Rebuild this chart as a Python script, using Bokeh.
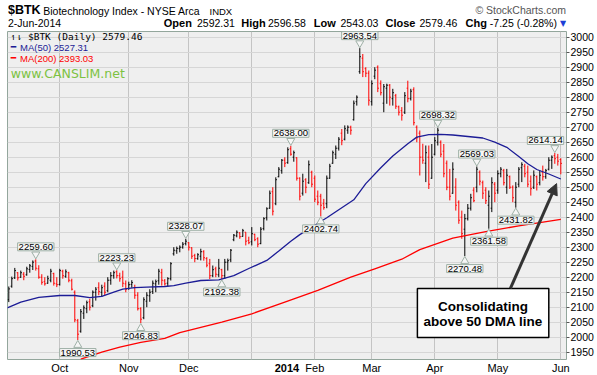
import numpy as np
from bokeh.plotting import figure
from bokeh.layouts import column
from bokeh.models import (ColumnDataSource, Range1d, FixedTicker, SingleIntervalTicker,
                          Label, Arrow, NormalHead, BoxAnnotation, LinearAxis)
from bokeh.embed import file_html
from bokeh.resources import INLINE

# ---------------- data ----------------
opens = [2125, 2170, 2198, 2215, 2200, 2210, 2208, 2226, 2236, 2254,
         2228, 2200, 2185, 2180, 2190, 2212, 2178, 2176, 2220, 2203,
         2215, 2188, 2150, 2055, 2020, 2080, 2095, 2118, 2105, 2150,
         2165, 2150, 2170, 2155, 2190, 2205, 2218, 2205, 2200, 2178,
         2162, 2176, 2165, 2140, 2095, 2065, 2120, 2138, 2152, 2178,
         2188, 2215, 2188, 2180, 2195, 2278, 2288, 2295, 2300, 2312,
         2315, 2298, 2272, 2262, 2270, 2285, 2262, 2245, 2205, 2228,
         2208, 2225, 2205, 2250, 2258, 2325, 2338, 2348, 2336, 2350,
         2322, 2318, 2343, 2328, 2312, 2362, 2398, 2430, 2485, 2445,
         2535, 2555, 2590, 2582, 2628, 2600, 2598, 2530, 2480, 2525,
         2515, 2550, 2530, 2470, 2470, 2445, 2445, 2530, 2580, 2610,
         2630, 2680, 2660, 2690, 2700, 2725, 2785, 2885, 2930, 2895,
         2880, 2785, 2870, 2900, 2845, 2780, 2830, 2840, 2795, 2805,
         2768, 2755, 2750, 2830, 2795, 2825, 2700, 2680, 2600, 2580,
         2600, 2530, 2610, 2650, 2650, 2620, 2580, 2500, 2480, 2500,
         2450, 2400, 2360, 2395, 2430, 2490, 2500, 2550, 2515, 2490,
         2440, 2430, 2510, 2490, 2545, 2555, 2500, 2535, 2500, 2450,
         2510, 2565, 2570, 2550, 2520, 2500, 2535, 2515, 2550, 2535,
         2560, 2590, 2605, 2600, 2592.31]
highs = [2169, 2202, 2231, 2217, 2222, 2217, 2235, 2244, 2256, 2259.60,
         2240, 2210, 2200, 2205, 2228, 2215, 2200, 2228, 2225, 2226,
         2218, 2195, 2156, 2061, 2094, 2106, 2122, 2128, 2156, 2167,
         2183, 2175, 2183, 2200, 2217, 2222, 2223.23, 2215, 2222, 2189,
         2185, 2190, 2175, 2150, 2100, 2133, 2150, 2160, 2189, 2192,
         2228, 2228, 2194, 2200, 2250, 2300, 2302, 2306, 2317, 2328.07,
         2317, 2300, 2278, 2280, 2295, 2290, 2267, 2261, 2239, 2235,
         2261, 2228, 2261, 2262, 2294, 2344, 2356, 2350, 2361, 2350,
         2335, 2367, 2345, 2333, 2367, 2400, 2433, 2489, 2500, 2533,
         2567, 2594, 2600, 2633, 2638.00, 2622, 2600, 2533, 2545, 2530,
         2589, 2555, 2539, 2489, 2478, 2461, 2539, 2578, 2622, 2639,
         2667, 2694, 2706, 2706, 2705, 2789, 2806, 2963.54, 2944, 2900,
         2889, 2856, 2900, 2906, 2856, 2844, 2845, 2844, 2828, 2811,
         2772, 2767, 2817, 2855, 2828, 2833, 2706, 2689, 2645, 2639,
         2639, 2644, 2667, 2698.32, 2656, 2644, 2589, 2561, 2583, 2530,
         2456, 2422, 2411, 2444, 2478, 2500, 2569.03, 2556, 2522, 2500,
         2489, 2533, 2517, 2556, 2567, 2561, 2561, 2539, 2506, 2517,
         2567, 2583, 2578, 2572, 2539, 2556, 2539, 2556, 2572, 2561,
         2600, 2606, 2614.14, 2611, 2596.58]
lows = [2117, 2165, 2194, 2189, 2198, 2190, 2205, 2215, 2224, 2222,
        2195, 2175, 2172, 2178, 2183, 2172, 2167, 2172, 2195, 2198,
        2183, 2156, 2050, 1990.53, 2015, 2061, 2080, 2089, 2100, 2122,
        2140, 2135, 2140, 2150, 2175, 2195, 2196, 2185, 2167, 2150,
        2158, 2165, 2128, 2089, 2046.83, 2060, 2100, 2118, 2144, 2150,
        2175, 2172, 2172, 2170, 2189, 2272, 2278, 2283, 2295, 2306,
        2289, 2261, 2250, 2258, 2256, 2255, 2233, 2194, 2200, 2200,
        2200, 2192.38, 2194, 2222, 2250, 2320, 2333, 2328, 2335, 2306,
        2310, 2306, 2320, 2300, 2310, 2356, 2389, 2428, 2406, 2440,
        2533, 2545, 2567, 2578, 2605, 2585, 2522, 2456, 2472, 2480,
        2511, 2500, 2450, 2440, 2402.74, 2425, 2430, 2528, 2578, 2594,
        2622, 2640, 2656, 2678, 2675, 2722, 2772, 2878, 2867, 2867,
        2772, 2772, 2860, 2817, 2806, 2750, 2778, 2772, 2772, 2761,
        2739, 2722, 2744, 2783, 2789, 2706, 2650, 2539, 2578, 2517,
        2494, 2528, 2606, 2639, 2600, 2533, 2490, 2456, 2478, 2422,
        2378, 2328, 2270.48, 2389, 2422, 2450, 2483, 2506, 2461, 2444,
        2361.58, 2417, 2450, 2478, 2533, 2506, 2478, 2494, 2450, 2431.82,
        2500, 2517, 2533, 2500, 2472, 2494, 2489, 2506, 2522, 2528,
        2556, 2561, 2578, 2572, 2543.03]
closes = [2161, 2195, 2222, 2198, 2215, 2203, 2228, 2238, 2250, 2230,
          2200, 2183, 2178, 2195, 2220, 2180, 2175, 2222, 2205, 2218,
          2190, 2160, 2058, 2010, 2085, 2098, 2115, 2100, 2150, 2160,
          2152, 2165, 2150, 2190, 2205, 2215, 2205, 2195, 2180, 2160,
          2175, 2182, 2140, 2095, 2060, 2125, 2140, 2150, 2180, 2185,
          2220, 2190, 2178, 2195, 2245, 2290, 2296, 2300, 2310, 2320,
          2300, 2270, 2262, 2275, 2285, 2265, 2240, 2205, 2225, 2210,
          2230, 2205, 2250, 2255, 2290, 2340, 2350, 2335, 2355, 2320,
          2315, 2345, 2325, 2310, 2360, 2395, 2428, 2480, 2420, 2525,
          2560, 2590, 2580, 2625, 2610, 2615, 2530, 2470, 2520, 2500,
          2575, 2510, 2460, 2450, 2440, 2432, 2530, 2570, 2615, 2630,
          2660, 2655, 2695, 2700, 2690, 2780, 2800, 2935, 2885, 2880,
          2790, 2845, 2890, 2830, 2815, 2835, 2840, 2800, 2815, 2770,
          2750, 2740, 2805, 2795, 2820, 2715, 2665, 2600, 2590, 2615,
          2510, 2600, 2655, 2690, 2610, 2545, 2500, 2470, 2560, 2440,
          2390, 2345, 2395, 2430, 2465, 2455, 2560, 2520, 2480, 2455,
          2470, 2515, 2480, 2545, 2560, 2515, 2540, 2500, 2465, 2500,
          2560, 2575, 2545, 2510, 2495, 2540, 2510, 2540, 2535, 2555,
          2590, 2600, 2595, 2586.71, 2579.46]

# month boundaries (trading-day index) and their tick labels
month_idx = [17, 40, 60, 81, 102, 121, 142, 163, 184]
month_lbl = ["Oct", "Nov", "Dec", "2014", "Feb", "Mar", "Apr", "May", "Jun"]

# moving averages (trading-day index, value)
ma50_idx = [-0.5, 4, 10, 17, 22, 27, 31, 35, 38, 42, 46, 52, 55, 59, 64, 70, 75, 80, 86, 90,
            94, 97, 102, 106, 110, 115, 119, 124, 128, 133, 136, 140, 144, 148, 153, 158, 162,
            166, 170, 173, 176, 180, 184]
ma50_val = [2098, 2117, 2133, 2139, 2139, 2132, 2136, 2150, 2160, 2165, 2167, 2169, 2172, 2180,
            2189, 2191, 2205, 2229, 2256, 2287, 2320, 2342, 2373, 2398, 2425, 2458, 2512, 2565,
            2604, 2645, 2667, 2675, 2676, 2674, 2669, 2664, 2650, 2633, 2602, 2578, 2559, 2544,
            2527.31]
ma200_idx = [24, 31, 37, 44, 52, 57, 64, 71, 81, 92, 103, 114, 122, 131, 137, 148, 159, 170, 184]
ma200_val = [1927, 1950, 1967, 1983, 1996, 2015, 2033, 2050, 2078, 2117, 2156, 2200, 2228,
             2260, 2292, 2330, 2352, 2371, 2393.03]

# annotated swing highs / lows
lbl_idx = [9, 23, 36, 44, 59, 71, 94, 104, 117, 143, 152, 156, 160, 169, 182]
lbl_kind = ["high", "low", "high", "low", "high", "low", "high", "low", "high", "high",
            "low", "high", "low", "low", "high"]

# ---------------- layout constants ----------------
W = 597
HDR_H = 31
FW, FH = 559, 328
BL, BR, BB = 7, 31, 16
X0, X1 = -0.43, 185.9
Y0, Y1 = 1925.7, 3019.0
FONT = "Liberation Sans"
MA50C, MA200C = "#1c1c96", "#ff0000"

# ---------------- main chart ----------------
n = len(closes)
xs = np.arange(n)
cols = ["black"] + ["black" if closes[k] >= closes[k - 1] else "#ff0000" for k in range(1, n)]
TICK = 0.38
src = ColumnDataSource(dict(x=xs, xl=xs - TICK, xr=xs + TICK, o=opens, h=highs, l=lows,
                            c=closes, col=cols))

p = figure(frame_width=FW, frame_height=FH, x_range=Range1d(X0, X1), y_range=Range1d(Y0, Y1),
           y_axis_location="right", output_backend="svg", toolbar_location=None,
           min_border_left=BL, min_border_right=BR, min_border_top=0, min_border_bottom=BB,
           background_fill_color="#efefef", border_fill_color="white",
           outline_line_color="#93a69c")

p.xgrid.ticker = FixedTicker(ticks=month_idx)
p.xgrid.grid_line_color = "#c4c4c4"
p.ygrid.ticker = SingleIntervalTicker(interval=50)
p.ygrid.grid_line_color = "#d6d6d6"

xa = p.xaxis[0]
xa.ticker = FixedTicker(ticks=month_idx)
xa.major_label_overrides = {m: (" " if l == "2014" else l) for m, l in zip(month_idx, month_lbl)}
xa.axis_line_color = None
xa.major_tick_line_color = None
xa.minor_tick_line_color = None
xa.major_tick_out = 0
xa.major_tick_in = 0
xa.major_label_standoff = 2
xa.major_label_text_font = FONT
xa.major_label_text_font_size = "11px"
xa.major_label_text_color = "black"

# second (label-only) bottom axis carrying the bold year label
yr_pos = month_idx[month_lbl.index("2014")]
xb = LinearAxis(ticker=FixedTicker(ticks=[]), bounds=(yr_pos - 0.5, yr_pos + 0.5),
                axis_label="2014",
                axis_label_text_font=FONT, axis_label_text_font_size="11px",
                axis_label_text_font_style="bold", axis_label_text_color="black",
                axis_label_standoff=-13, axis_line_color=None,
                major_tick_line_color=None, minor_tick_line_color=None,
                major_tick_out=0, major_tick_in=0, major_label_standoff=0,
                major_label_text_font_size="0px")
p.add_layout(xb, "below")

ya = p.yaxis[0]
ya.ticker = SingleIntervalTicker(interval=50, num_minor_ticks=0)
ya.axis_line_color = None
ya.major_tick_in = 0
ya.major_tick_out = 3
ya.major_tick_line_color = "#555555"
ya.minor_tick_line_color = None
ya.major_label_standoff = 1
ya.major_label_text_font = FONT
ya.major_label_text_font_size = "10.5px"
ya.major_label_text_color = "black"

# OHLC bars
p.segment(x0="x", y0="l", x1="x", y1="h", color="col", line_width=1, source=src)
p.segment(x0="xl", y0="o", x1="x", y1="o", color="col", line_width=1, source=src)
p.segment(x0="x", y0="c", x1="xr", y1="c", color="col", line_width=1, source=src)

# moving averages
p.line(ma200_idx, ma200_val, color=MA200C, line_width=1.3)
p.line(ma50_idx, ma50_val, color=MA50C, line_width=1.3)

# swing labels with pointers
upp = (Y1 - Y0) / FH
ppx = FW / (X1 - X0)
HALF_BOX = 19.5
BOXF, BOXL = "#f6f6f6", "#9eb0a6"
tri_x, tri_y, tri_m = [], [], []
for i, kind in zip(lbl_idx, lbl_kind):
    v = highs[i] if kind == "high" else lows[i]
    sgn = 1 if kind == "high" else -1
    tri_x.append(i)
    tri_y.append(v + sgn * 5 * upp)
    tri_m.append("inverted_triangle" if kind == "high" else "triangle")
    sx = (i - X0) * ppx
    xoff = min(0.0, (FW - 1.5) - (sx + HALF_BOX))     # keep the box inside the frame
    p.add_layout(Label(x=i, y=v, x_offset=xoff, y_offset=sgn * 12.5, text=f"{v:.2f}",
                       text_align="center", text_baseline="middle", text_font=FONT,
                       text_font_size="9.5px", text_color="black",
                       background_fill_color=BOXF, border_line_color=BOXL, padding=1))
p.scatter(tri_x, tri_y, marker=tri_m, size=8, fill_color=BOXF, line_color=BOXL)

# annotation box + arrow
p.add_layout(BoxAnnotation(left=136.2, right=180.0, bottom=1999, top=2162, fill_color="white",
                           fill_alpha=1.0, line_color="black", line_width=1.5, line_alpha=1.0))
p.add_layout(Label(x=158.1, y=2104, text="Consolidating", text_align="center",
                   text_baseline="middle", text_font=FONT, text_font_style="bold",
                   text_font_size="13.5px", text_color="black"))
p.add_layout(Label(x=158.1, y=2051, text="above 50 DMA line", text_align="center",
                   text_baseline="middle", text_font=FONT, text_font_style="bold",
                   text_font_size="13.5px", text_color="black"))
p.add_layout(Arrow(end=NormalHead(size=11, fill_color="#333333", line_color="#333333"),
                   x_start=167.2, y_start=2163, x_end=182.6, y_end=2512,
                   line_color="#333333", line_width=3))

# in-plot legend (screen units relative to the frame)
def leg(x, y, text, size, color="black", font=FONT):
    p.add_layout(Label(x=x, y=y, x_units="screen", y_units="screen", text=text,
                       text_align="left", text_baseline="middle", text_font=font,
                       text_font_size=size, text_color=color))

leg(3.3, FH - 5, "\u21bf\u21c2 $BTK (Daily) " + f"{closes[-1]:.2f}", "9.5px", font="DejaVu Sans Mono")
leg(3.3, FH - 15.5, "\u2501", "9px", MA50C, "DejaVu Sans")
leg(12.5, FH - 15.5, f"MA(50) {ma50_val[-1]:.2f}", "9.5px", MA50C)
leg(3.3, FH - 26.5, "\u2501", "9px", MA200C, "DejaVu Sans")
leg(12.5, FH - 26.5, f"MA(200) {ma200_val[-1]:.2f}", "9.5px", MA200C)
leg(3.3, FH - 41.5, "www.CANSLIM.net", "12.5px", "#7cc242", "DejaVu Sans")

# ---------------- header strip (frame aligned with the chart frame; data x = page x) ----------------
h = figure(frame_width=FW, frame_height=HDR_H, x_range=Range1d(BL, BL + FW),
           y_range=Range1d(HDR_H, 0), x_axis_type=None, y_axis_type=None,
           output_backend="svg", toolbar_location=None,
           min_border_left=BL, min_border_right=BR, min_border_top=0, min_border_bottom=0,
           outline_line_color=None, background_fill_color="white", border_fill_color="white")
for g in h.grid:
    g.visible = False

def hdr(x, y, text, size="11px", bold=False, color="black", align="left", font=FONT):
    h.add_layout(Label(x=x, y=y, text=text, text_align=align, text_baseline="middle",
                       text_font=font, text_font_size=size,
                       text_font_style="bold" if bold else "normal", text_color=color))

chg = closes[-1] - closes[-2]
pct = chg / closes[-2] * 100
R1, R2 = 9.5, 22.5
hdr(7.5, R1, "$BTK", "12.5px", True)
hdr(42.7, R1 + 0.5, "Biotechnology Index - NYSE Arca", "10.5px")
hdr(209, R1 + 1, "INDX", "9.5px")
hdr(565.5, R1, "\u00a9 StockCharts.com", "10.5px", color="#555555", align="right")
hdr(7.5, R2, "2-Jun-2014", "10.5px")
hdr(163.3, R2, "Open", "11px", True)
hdr(196.5, R2, f"{opens[-1]:.2f}", "10.5px")
hdr(240.7, R2, "High", "11px", True)
hdr(267.5, R2, f"{highs[-1]:.2f}", "10.5px")
hdr(313.3, R2, "Low", "11px", True)
hdr(340, R2, f"{lows[-1]:.2f}", "10.5px")
hdr(385, R2, "Close", "11px", True)
hdr(419, R2, f"{closes[-1]:.2f}", "10.5px")
hdr(465, R2, "Chg", "11px", True)
hdr(489.3, R2, f"{chg:.2f} ({pct:.2f}%)", "10.5px")
hdr(562.5, R2 + 0.5, "\u25bc", "8px", color="#1d3fd6", align="center", font="DejaVu Sans")

layout = column(h, p, spacing=0)
open("out.html", "w").write(file_html(layout, INLINE))
